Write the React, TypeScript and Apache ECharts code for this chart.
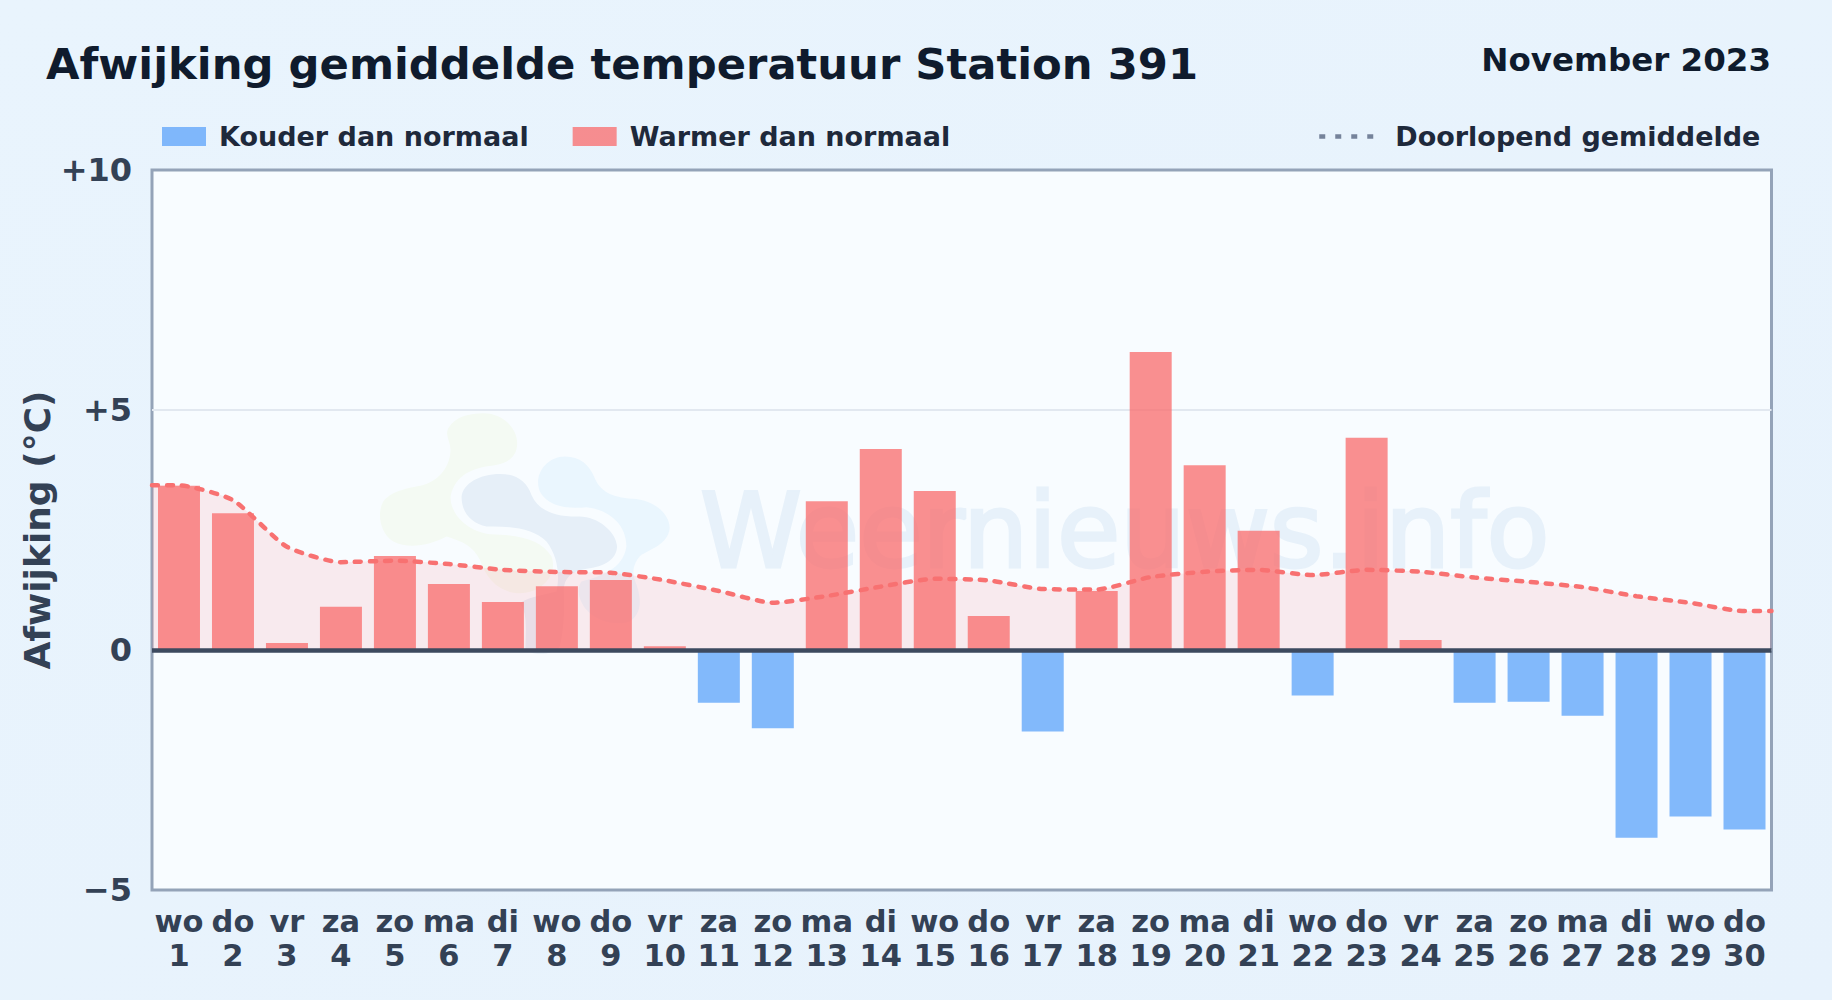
import React, { useEffect, useRef } from "react";
import * as echarts from "echarts";

const weekdays = ["wo","do","vr","za","zo","ma","di","wo","do","vr","za","zo","ma","di","wo","do","vr","za","zo","ma","di","wo","do","vr","za","zo","ma","di","wo","do"];
const dayNumbers = [1,2,3,4,5,6,7,8,9,10,11,12,13,14,15,16,17,18,19,20,21,22,23,24,25,26,27,28,29,30];
const deviations = [3.42,2.85,0.145,0.9,1.96,1.375,1.0,1.33,1.46,0.08,-1.1,-1.63,3.1,4.19,3.31,0.71,-1.7,1.23,6.21,3.85,2.485,-0.95,4.42,0.21,-1.1,-1.08,-1.37,-3.91,-3.47,-3.74];
const runningMean = [3.43,3.12,2.15,1.83,1.86,1.79,1.67,1.625,1.61,1.45,1.23,0.985,1.125,1.32,1.485,1.45,1.27,1.26,1.52,1.63,1.67,1.56,1.67,1.63,1.51,1.42,1.31,1.12,0.98,0.81];
const yTicks: Record<string, string> = { "-5": "\u22125", "0": "0", "5": "+5", "10": "+10" };

const FONT = "DejaVu Sans";
const TITLE = "Afwijking gemiddelde temperatuur Station 391";
const PERIOD = "November 2023";
const COLD = "Kouder dan normaal";
const WARM = "Warmer dan normaal";
const MEAN = "Doorlopend gemiddelde";

const blobGreen = "M370 40C430 40 472 85 472 130C472 170 445 190 400 197C340 203 285 225 272 290C270 340 320 395 390 403C480 405 545 420 575 470C595 520 550 580 480 580C420 580 380 540 360 480C340 440 310 425 260 410C210 435 150 450 100 425C60 400 50 340 70 305C90 275 140 265 190 255C240 240 270 200 272 150C270 120 255 105 265 85C285 50 330 40 370 40Z";
const blobSlate = "M420 222C470 222 500 245 515 285C535 330 580 350 650 350C710 345 770 395 772 440C770 480 735 500 680 507C640 515 610 530 612 580C615 640 610 700 600 740C585 765 520 770 497 750C497 700 505 640 480 610C500 595 530 590 590 575C600 530 595 470 560 425C520 385 450 378 380 380C335 370 305 340 305 290C310 250 360 222 420 222Z";
const blobBlue = "M615 170C660 170 690 195 705 235C725 280 765 295 830 297C890 305 930 345 930 385C925 430 880 445 845 465C825 485 815 510 825 540C845 590 850 640 810 665C770 680 710 665 680 630C655 600 650 565 665 545C720 530 790 510 800 440C800 375 750 330 680 322C620 328 565 320 540 275C520 225 560 170 615 170Z";

export default function App() {
  const ref = useRef<HTMLDivElement>(null);
  useEffect(() => {
    document.body.style.margin = "0";
    echarts.graphic.registerShape("blobGreen", echarts.graphic.extendPath(blobGreen as any, {}) as any);
    echarts.graphic.registerShape("blobSlate", echarts.graphic.extendPath(blobSlate as any, {}) as any);
    echarts.graphic.registerShape("blobBlue", echarts.graphic.extendPath(blobBlue as any, {}) as any);
    const chart = echarts.init(ref.current!, undefined, { renderer: "svg" });
    const lineData: [number, number][] = [
      [0, runningMean[0]],
      ...runningMean.map((v, i) => [i + 0.5, v] as [number, number]),
      [30, runningMean[29]],
    ];
    const blob = (type: string, fill: string) => ({
      type, x: 360, y: 400, scaleX: 1 / 3, scaleY: 1 / 3, z: 1, silent: true, style: { fill },
    });
    chart.setOption({
      animation: false,
      backgroundColor: new echarts.graphic.LinearGradient(0, 0, 1, 1, [
        { offset: 0, color: "#e9f4fd" },
        { offset: 1, color: "#e7f2fc" },
      ]),
      textStyle: { fontFamily: FONT },
      title: [
        { text: TITLE, left: 41, top: 37, textStyle: { fontFamily: FONT, fontSize: 43.3, fontWeight: "bold", color: "#0f1b2d" } },
        { text: PERIOD, right: 56, top: 38, textStyle: { fontFamily: FONT, fontSize: 32.5, fontWeight: "bold", color: "#0f1b2d" } },
      ],
      legend: [
        {
          left: 162, top: 123, itemWidth: 44, itemHeight: 19, itemGap: 44, padding: 0, selectedMode: false,
          textStyle: { fontFamily: FONT, fontSize: 27, fontWeight: "bold", color: "#1e293b", padding: [0, 0, 0, 8] },
          data: [{ name: COLD, icon: "rect" }, { name: WARM, icon: "rect" }],
        },
        {
          left: 1317, top: 123, itemWidth: 56, itemHeight: 19, padding: 0, selectedMode: false,
          textStyle: { fontFamily: FONT, fontSize: 27, fontWeight: "bold", color: "#1e293b", padding: [0, 0, 0, 15] },
          data: [{
            name: MEAN,
            itemStyle: { color: "transparent", opacity: 0, borderWidth: 0 },
            lineStyle: { color: "#75839a", width: 4.5, type: [6, 10], cap: "butt" },
          }],
        },
      ],
      grid: {
        left: 152, top: 170, width: 1619.5, height: 720, show: true,
        backgroundColor: "#f8fcff", borderColor: "#94a3b8", borderWidth: 3, containLabel: false,
      },
      xAxis: [
        {
          type: "category",
          data: weekdays.map((d, i) => `${d}\n${dayNumbers[i]}`),
          axisLine: { show: false, onZero: false },
          axisTick: { show: false },
          splitLine: { show: false },
          axisLabel: {
            interval: 0, hideOverlap: false, margin: 15, fontFamily: FONT, fontSize: 30.5, fontWeight: "bold",
            color: "#334155", lineHeight: 33.4,
          },
        },
        { type: "value", min: 0, max: 30, show: false, splitLine: { show: false } },
      ],
      yAxis: {
        type: "value", min: -5, max: 10, interval: 5,
        name: "Afwijking (\u00b0C)", nameLocation: "middle", nameGap: 97, nameMoveOverlap: false,
        nameTextStyle: { fontFamily: FONT, fontSize: 36, fontWeight: "bold", color: "#334155" },
        axisLine: { show: false }, axisTick: { show: false },
        splitLine: { showMinLine: false, showMaxLine: false, lineStyle: { color: "#e2e8f0", width: 2 } },
        axisLabel: {
          margin: 20, fontFamily: FONT, fontSize: 32, fontWeight: "bold", color: "#334155",
          formatter: (v: number) => yTicks[String(v)] ?? String(v),
        },
      },
      graphic: [
        { type: "group", silent: true, children: [
          blob("blobGreen", "#f4faf3"),
          blob("blobBlue", "#eaf6fe"),
          blob("blobSlate", "#e6eff8"),
          {
            type: "text", x: 700, y: 582, z: 1, silent: true,
            style: { text: "Weernieuws.info", fontFamily: FONT, fontSize: 103, fontWeight: "normal", fill: "#e7f1fa", stroke: "#e7f1fa", lineWidth: 3, verticalAlign: "bottom" },
          },
        ] },
      ],
      series: [
        {
          name: "area", type: "line", xAxisIndex: 1, z: 2, smooth: 0.2, symbol: "none",
          data: lineData, lineStyle: { width: 0 }, areaStyle: { color: "rgba(255,100,110,0.17)" }, silent: true,
        },
        {
          name: COLD, type: "bar", xAxisIndex: 0, z: 3, barWidth: 42, barGap: "-100%",
          data: deviations.map((v) => (v < 0 ? v : null)),
          itemStyle: { color: "rgba(100,167,250,0.8)" },
        },
        {
          name: WARM, type: "bar", xAxisIndex: 0, z: 3, barWidth: 42, barGap: "-100%",
          data: deviations.map((v) => (v >= 0 ? v : null)),
          itemStyle: { color: "rgba(250,107,107,0.75)" },
        },
        {
          name: MEAN, type: "line", xAxisIndex: 1, z: 4, smooth: 0.2, symbol: "none",
          data: lineData,
          lineStyle: { color: "#f87171", width: 4.5, type: [6, 9], cap: "round" },
          markLine: {
            silent: true, symbol: "none", animation: false, label: { show: false },
            lineStyle: { color: "#3d4a5f", width: 4.5, type: "solid" },
            data: [{ yAxis: 0 }],
          },
        },
      ],
    });
    return () => chart.dispose();
  }, []);
  return <div ref={ref} style={{ position: "absolute", left: 0, top: 0, width: 1832, height: 1000 }} />;
}
